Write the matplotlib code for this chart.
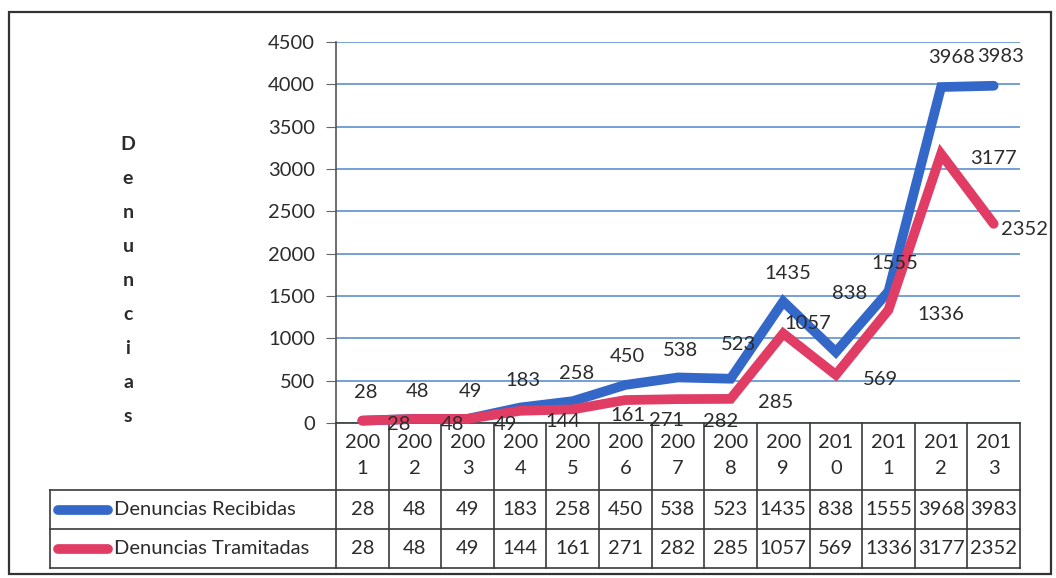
import matplotlib
matplotlib.use('Agg')
import matplotlib.pyplot as plt
from matplotlib.patches import Rectangle

# ---------------- data ----------------
years = ['2001', '2002', '2003', '2004', '2005', '2006', '2007',
         '2008', '2009', '2010', '2011', '2012', '2013']
recibidas = [28, 48, 49, 183, 258, 450, 538, 523, 1435, 838, 1555, 3968, 3983]
tramitadas = [28, 48, 49, 144, 161, 271, 282, 285, 1057, 569, 1336, 3177, 2352]
series_names = ['Denuncias Recibidas', 'Denuncias Tramitadas']
yticks = [0, 500, 1000, 1500, 2000, 2500, 3000, 3500, 4000, 4500]
ylabel = 'Denuncias'

# label offsets (pixels: dx right, dy down) -- styling only
rec_dx = [3, 3, 3, 3, 4, 2, 3, 8, 5, 14, 6, 10, 7]
rec_dy = [-28, -27, -27, -27, -28, -28, -27, -34, -28, -59, -28, -30, -29]
tra_dx = [36, 38, 38, 43, 55, 41, 43, 45, 25, 45, 52, 52, 31]
tra_dy = [4, 6, 6, 11, 6, 20, 22, 4, -10, 5, 5, 4, 6]

# ---------------- style ----------------
FONT = ['Lato', 'DejaVu Sans']
plt.rcParams['font.family'] = FONT
FS = 14.5
BLUE = '#3468c8'
RED = '#e03c64'
GRID = '#4f86c9'
TXT = '#2b2b2b'
LINEC = '#3a3a3a'

W, H = 1056, 578
fig = plt.figure(figsize=(W / 100, H / 100), dpi=100)
fig.patch.set_facecolor('white')

L, R, T, B = 336, 1020, 42, 423

# overlay axes in pixel coordinates for frame/table
tax = fig.add_axes([0, 0, 1, 1])
tax.set_xlim(0, W)
tax.set_ylim(H, 0)
tax.axis('off')

ax = fig.add_axes([L / W, 1 - B / H, (R - L) / W, (B - T) / H])
ax.patch.set_alpha(0)
n = len(years)
x = list(range(n))
ax.set_xlim(-0.5, n - 0.5)
ax.set_ylim(0, 4500)
ax.set_yticks(yticks)
ax.set_yticklabels([str(v) for v in yticks])
ax.set_xticks([])
ax.yaxis.grid(True, color=GRID, lw=1.1)
ax.set_axisbelow(True)
for s in ['top', 'right']:
    ax.spines[s].set_visible(False)
ax.spines['left'].set_color('#555555')
ax.spines['bottom'].set_color(LINEC)
ax.spines['left'].set_linewidth(1.2)
ax.spines['bottom'].set_linewidth(1.2)
ax.tick_params(axis='y', direction='out', length=7, color='#666666',
               labelsize=FS, labelcolor=TXT, pad=8)

ax.plot(x, recibidas, color=BLUE, lw=7, solid_capstyle='round',
        solid_joinstyle='miter', zorder=3, clip_on=False)
ax.plot(x, tramitadas, color=RED, lw=7, solid_capstyle='round',
        solid_joinstyle='miter', zorder=4, clip_on=False)

for i, v in enumerate(recibidas):
    ax.annotate(str(v), (i, v), xytext=(rec_dx[i], -rec_dy[i]),
                textcoords='offset pixels', ha='center', va='center',
                fontsize=FS, color=TXT, zorder=6, annotation_clip=False)
for i, v in enumerate(tramitadas):
    ax.annotate(str(v), (i, v), xytext=(tra_dx[i], -tra_dy[i]),
                textcoords='offset pixels', ha='center', va='center',
                fontsize=FS, color=TXT, zorder=6, annotation_clip=False)

# y label, stacked letters
ly0, lstep = 145, 34
for k, ch in enumerate(ylabel):
    tax.text(128, ly0 + k * lstep, ch, ha='center', va='center',
             fontsize=14, fontweight='bold', color=TXT)

# ---------------- table ----------------
cw = (R - L) / n
yr_top, r1, r2, r3 = B, 490, 529, 568
leg_left = 50
lw_t = 1.2
for i in range(n + 1):
    xb = L + i * cw
    tax.plot([xb, xb], [yr_top, r3], color=LINEC, lw=lw_t)
for yy in [r1, r2, r3]:
    tax.plot([leg_left, R], [yy, yy], color=LINEC, lw=lw_t)
tax.plot([leg_left, leg_left], [r1, r3], color=LINEC, lw=lw_t)

for i, yv in enumerate(years):
    cx = L + (i + 0.5) * cw
    tax.text(cx, 443, yv[:3], ha='center', va='center', fontsize=FS, color=TXT)
    tax.text(cx, 468, yv[3:], ha='center', va='center', fontsize=FS, color=TXT)
    tax.text(cx, (r1 + r2) / 2, str(recibidas[i]), ha='center', va='center',
             fontsize=FS, color=TXT)
    tax.text(cx, (r2 + r3) / 2, str(tramitadas[i]), ha='center', va='center',
             fontsize=FS, color=TXT)

for (yy, col, name) in [((r1 + r2) / 2, BLUE, series_names[0]),
                        ((r2 + r3) / 2, RED, series_names[1])]:
    tax.plot([58, 108], [yy, yy], color=col, lw=7, solid_capstyle='round')
    tax.text(114, yy, name, ha='left', va='center', fontsize=FS, color=TXT)

# outer frame
tax.add_patch(Rectangle((9, 12), 1042, 562, fill=False, edgecolor='#333333', lw=1.6))

fig.savefig('out.png', dpi=100, facecolor='white')
